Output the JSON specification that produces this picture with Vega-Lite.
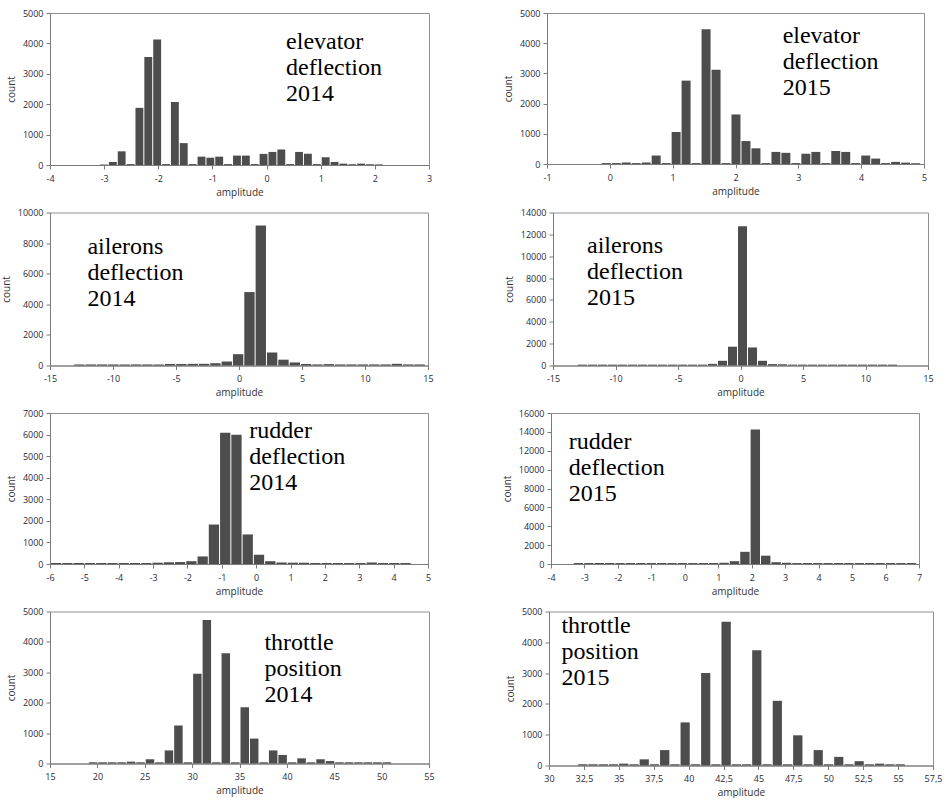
{
  "$schema": "https://vega.github.io/schema/vega-lite/v6.json",
  "background": "white",
  "padding": {"left": 0, "top": 8, "right": 0, "bottom": 0},
  "config": {
    "view": {"stroke": "#8f8f8f", "strokeWidth": 1},
    "axis": {
      "grid": false,
      "labelFont": "Open Sans", "labelFontSize": 9, "labelColor": "#2a2a38",
      "titleFont": "Open Sans", "titleFontSize": 10, "titleFontWeight": "normal", "titleColor": "#333333",
      "domainColor": "#7a7a7a", "tickColor": "#7a7a7a", "tickSize": 4,
      "labelOverlap": false, "labelFlush": false, "labelBound": false
    },
    "axisX": {"labelPadding": 5, "titlePadding": 4, "format": "d"},
    "axisY": {"labelPadding": 3, "titlePadding": 6, "format": "d"}
  },
  "datasets": {
    "p1": [
      {"lo": -3.095, "hi": -2.931, "n": 15}, {"lo": -2.931, "hi": -2.767, "n": 100}, {"lo": -2.767, "hi": -2.604, "n": 450},
      {"lo": -2.604, "hi": -2.44, "n": 30}, {"lo": -2.44, "hi": -2.276, "n": 1880}, {"lo": -2.276, "hi": -2.112, "n": 3550},
      {"lo": -2.112, "hi": -1.948, "n": 4130}, {"lo": -1.948, "hi": -1.785, "n": 30}, {"lo": -1.785, "hi": -1.621, "n": 2070},
      {"lo": -1.621, "hi": -1.457, "n": 720}, {"lo": -1.457, "hi": -1.293, "n": 30}, {"lo": -1.293, "hi": -1.129, "n": 275},
      {"lo": -1.129, "hi": -0.966, "n": 240}, {"lo": -0.966, "hi": -0.802, "n": 275}, {"lo": -0.802, "hi": -0.638, "n": 30},
      {"lo": -0.638, "hi": -0.474, "n": 310}, {"lo": -0.474, "hi": -0.31, "n": 310}, {"lo": -0.31, "hi": -0.147, "n": 30},
      {"lo": -0.147, "hi": 0.017, "n": 365}, {"lo": 0.017, "hi": 0.181, "n": 430}, {"lo": 0.181, "hi": 0.345, "n": 510},
      {"lo": 0.345, "hi": 0.509, "n": 30}, {"lo": 0.509, "hi": 0.672, "n": 430}, {"lo": 0.672, "hi": 0.836, "n": 370},
      {"lo": 0.836, "hi": 1.0, "n": 30}, {"lo": 1.0, "hi": 1.164, "n": 255}, {"lo": 1.164, "hi": 1.328, "n": 100},
      {"lo": 1.328, "hi": 1.491, "n": 45}, {"lo": 1.491, "hi": 1.655, "n": 25}, {"lo": 1.655, "hi": 1.819, "n": 45},
      {"lo": 1.819, "hi": 1.983, "n": 25}, {"lo": 1.983, "hi": 2.147, "n": 20}
    ],
    "p2": [
      {"lo": -0.144, "hi": 0.015, "n": 30}, {"lo": 0.015, "hi": 0.174, "n": 30}, {"lo": 0.174, "hi": 0.332, "n": 50},
      {"lo": 0.332, "hi": 0.491, "n": 30}, {"lo": 0.491, "hi": 0.65, "n": 50}, {"lo": 0.65, "hi": 0.809, "n": 280},
      {"lo": 0.809, "hi": 0.968, "n": 30}, {"lo": 0.968, "hi": 1.126, "n": 1060}, {"lo": 1.126, "hi": 1.285, "n": 2760},
      {"lo": 1.285, "hi": 1.444, "n": 30}, {"lo": 1.444, "hi": 1.603, "n": 4460}, {"lo": 1.603, "hi": 1.762, "n": 3120},
      {"lo": 1.762, "hi": 1.92, "n": 30}, {"lo": 1.92, "hi": 2.079, "n": 1640}, {"lo": 2.079, "hi": 2.238, "n": 760},
      {"lo": 2.238, "hi": 2.397, "n": 520}, {"lo": 2.397, "hi": 2.556, "n": 30}, {"lo": 2.556, "hi": 2.714, "n": 400},
      {"lo": 2.714, "hi": 2.873, "n": 370}, {"lo": 2.873, "hi": 3.032, "n": 30}, {"lo": 3.032, "hi": 3.191, "n": 340},
      {"lo": 3.191, "hi": 3.35, "n": 400}, {"lo": 3.35, "hi": 3.508, "n": 30}, {"lo": 3.508, "hi": 3.667, "n": 430},
      {"lo": 3.667, "hi": 3.826, "n": 400}, {"lo": 3.826, "hi": 3.985, "n": 30}, {"lo": 3.985, "hi": 4.144, "n": 280},
      {"lo": 4.144, "hi": 4.302, "n": 180}, {"lo": 4.302, "hi": 4.461, "n": 30}, {"lo": 4.461, "hi": 4.62, "n": 70},
      {"lo": 4.62, "hi": 4.779, "n": 45}, {"lo": 4.779, "hi": 4.938, "n": 25}
    ],
    "p3": [
      {"lo": -13.16, "hi": -12.26, "n": 70}, {"lo": -12.26, "hi": -11.36, "n": 70}, {"lo": -11.36, "hi": -10.46, "n": 70},
      {"lo": -10.46, "hi": -9.56, "n": 70}, {"lo": -9.56, "hi": -8.66, "n": 70}, {"lo": -8.66, "hi": -7.76, "n": 70},
      {"lo": -7.76, "hi": -6.86, "n": 70}, {"lo": -6.86, "hi": -5.96, "n": 70}, {"lo": -5.96, "hi": -5.06, "n": 90},
      {"lo": -5.06, "hi": -4.16, "n": 100}, {"lo": -4.16, "hi": -3.26, "n": 110}, {"lo": -3.26, "hi": -2.36, "n": 110},
      {"lo": -2.36, "hi": -1.46, "n": 150}, {"lo": -1.46, "hi": -0.56, "n": 260}, {"lo": -0.56, "hi": 0.34, "n": 740},
      {"lo": 0.34, "hi": 1.24, "n": 4800}, {"lo": 1.24, "hi": 2.14, "n": 9150}, {"lo": 2.14, "hi": 3.04, "n": 850},
      {"lo": 3.04, "hi": 3.94, "n": 380}, {"lo": 3.94, "hi": 4.84, "n": 200}, {"lo": 4.84, "hi": 5.74, "n": 90},
      {"lo": 5.74, "hi": 6.64, "n": 70}, {"lo": 6.64, "hi": 7.54, "n": 90}, {"lo": 7.54, "hi": 8.44, "n": 70},
      {"lo": 8.44, "hi": 9.34, "n": 70}, {"lo": 9.34, "hi": 10.24, "n": 70}, {"lo": 10.24, "hi": 11.14, "n": 70},
      {"lo": 11.14, "hi": 12.04, "n": 70}, {"lo": 12.04, "hi": 12.94, "n": 110}, {"lo": 12.94, "hi": 13.84, "n": 70},
      {"lo": 13.84, "hi": 14.74, "n": 70}
    ],
    "p4": [
      {"lo": -13.08, "hi": -12.28, "n": 80}, {"lo": -12.28, "hi": -11.48, "n": 80}, {"lo": -11.48, "hi": -10.68, "n": 80},
      {"lo": -10.68, "hi": -9.88, "n": 80}, {"lo": -9.88, "hi": -9.08, "n": 80}, {"lo": -9.08, "hi": -8.28, "n": 80},
      {"lo": -8.28, "hi": -7.48, "n": 80}, {"lo": -7.48, "hi": -6.68, "n": 80}, {"lo": -6.68, "hi": -5.88, "n": 80},
      {"lo": -5.88, "hi": -5.08, "n": 80}, {"lo": -5.08, "hi": -4.28, "n": 80}, {"lo": -4.28, "hi": -3.48, "n": 80},
      {"lo": -3.48, "hi": -2.68, "n": 80}, {"lo": -2.68, "hi": -1.88, "n": 150}, {"lo": -1.88, "hi": -1.08, "n": 430},
      {"lo": -1.08, "hi": -0.28, "n": 1720}, {"lo": -0.28, "hi": 0.52, "n": 12750}, {"lo": 0.52, "hi": 1.32, "n": 1650},
      {"lo": 1.32, "hi": 2.12, "n": 430}, {"lo": 2.12, "hi": 2.92, "n": 130}, {"lo": 2.92, "hi": 3.72, "n": 110},
      {"lo": 3.72, "hi": 4.52, "n": 80}, {"lo": 4.52, "hi": 5.32, "n": 80}, {"lo": 5.32, "hi": 6.12, "n": 80},
      {"lo": 6.12, "hi": 6.92, "n": 80}, {"lo": 6.92, "hi": 7.72, "n": 80}, {"lo": 7.72, "hi": 8.52, "n": 80},
      {"lo": 8.52, "hi": 9.32, "n": 80}, {"lo": 9.32, "hi": 10.12, "n": 80}, {"lo": 10.12, "hi": 10.92, "n": 80},
      {"lo": 10.92, "hi": 11.72, "n": 80}, {"lo": 11.72, "hi": 12.52, "n": 80}
    ],
    "p5": [
      {"lo": -6.0, "hi": -5.672, "n": 45}, {"lo": -5.672, "hi": -5.344, "n": 45}, {"lo": -5.344, "hi": -5.016, "n": 45},
      {"lo": -5.016, "hi": -4.688, "n": 45}, {"lo": -4.688, "hi": -4.36, "n": 45}, {"lo": -4.36, "hi": -4.032, "n": 45},
      {"lo": -4.032, "hi": -3.704, "n": 45}, {"lo": -3.704, "hi": -3.376, "n": 45}, {"lo": -3.376, "hi": -3.048, "n": 45},
      {"lo": -3.048, "hi": -2.72, "n": 60}, {"lo": -2.72, "hi": -2.392, "n": 80}, {"lo": -2.392, "hi": -2.064, "n": 90},
      {"lo": -2.064, "hi": -1.736, "n": 130}, {"lo": -1.736, "hi": -1.408, "n": 350}, {"lo": -1.408, "hi": -1.08, "n": 1830},
      {"lo": -1.08, "hi": -0.752, "n": 6080}, {"lo": -0.752, "hi": -0.424, "n": 5990}, {"lo": -0.424, "hi": -0.096, "n": 1370},
      {"lo": -0.096, "hi": 0.232, "n": 430}, {"lo": 0.232, "hi": 0.56, "n": 130}, {"lo": 0.56, "hi": 0.888, "n": 70},
      {"lo": 0.888, "hi": 1.216, "n": 60}, {"lo": 1.216, "hi": 1.544, "n": 60}, {"lo": 1.544, "hi": 1.872, "n": 45},
      {"lo": 1.872, "hi": 2.2, "n": 45}, {"lo": 2.2, "hi": 2.528, "n": 45}, {"lo": 2.528, "hi": 2.856, "n": 45},
      {"lo": 2.856, "hi": 3.184, "n": 45}, {"lo": 3.184, "hi": 3.512, "n": 70}, {"lo": 3.512, "hi": 3.84, "n": 45},
      {"lo": 3.84, "hi": 4.168, "n": 45}, {"lo": 4.168, "hi": 4.496, "n": 45}
    ],
    "p6": [
      {"lo": -3.35, "hi": -3.039, "n": 100}, {"lo": -3.039, "hi": -2.728, "n": 100}, {"lo": -2.728, "hi": -2.417, "n": 100},
      {"lo": -2.417, "hi": -2.106, "n": 100}, {"lo": -2.106, "hi": -1.795, "n": 100}, {"lo": -1.795, "hi": -1.484, "n": 100},
      {"lo": -1.484, "hi": -1.173, "n": 100}, {"lo": -1.173, "hi": -0.862, "n": 100}, {"lo": -0.862, "hi": -0.551, "n": 100},
      {"lo": -0.551, "hi": -0.24, "n": 100}, {"lo": -0.24, "hi": 0.071, "n": 100}, {"lo": 0.071, "hi": 0.382, "n": 100},
      {"lo": 0.382, "hi": 0.693, "n": 100}, {"lo": 0.693, "hi": 1.004, "n": 100}, {"lo": 1.004, "hi": 1.315, "n": 130},
      {"lo": 1.315, "hi": 1.626, "n": 300}, {"lo": 1.626, "hi": 1.937, "n": 1290}, {"lo": 1.937, "hi": 2.248, "n": 14250},
      {"lo": 2.248, "hi": 2.559, "n": 880}, {"lo": 2.559, "hi": 2.87, "n": 190}, {"lo": 2.87, "hi": 3.181, "n": 130},
      {"lo": 3.181, "hi": 3.492, "n": 100}, {"lo": 3.492, "hi": 3.803, "n": 100}, {"lo": 3.803, "hi": 4.114, "n": 100},
      {"lo": 4.114, "hi": 4.425, "n": 100}, {"lo": 4.425, "hi": 4.736, "n": 100}, {"lo": 4.736, "hi": 5.047, "n": 100},
      {"lo": 5.047, "hi": 5.358, "n": 100}, {"lo": 5.358, "hi": 5.669, "n": 100}, {"lo": 5.669, "hi": 5.98, "n": 100},
      {"lo": 5.98, "hi": 6.291, "n": 100}, {"lo": 6.291, "hi": 6.602, "n": 100}, {"lo": 6.602, "hi": 6.913, "n": 100}
    ],
    "p7": [
      {"lo": 19, "hi": 20, "n": 40}, {"lo": 20, "hi": 21, "n": 40}, {"lo": 21, "hi": 22, "n": 40}, {"lo": 22, "hi": 23, "n": 40},
      {"lo": 23, "hi": 24, "n": 60}, {"lo": 24, "hi": 25, "n": 40}, {"lo": 25, "hi": 26, "n": 140}, {"lo": 26, "hi": 27, "n": 40},
      {"lo": 27, "hi": 28, "n": 430}, {"lo": 28, "hi": 29, "n": 1250}, {"lo": 29, "hi": 30, "n": 40}, {"lo": 30, "hi": 31, "n": 2950},
      {"lo": 31, "hi": 32, "n": 4720}, {"lo": 32, "hi": 33, "n": 40}, {"lo": 33, "hi": 34, "n": 3630}, {"lo": 34, "hi": 35, "n": 40},
      {"lo": 35, "hi": 36, "n": 1850}, {"lo": 36, "hi": 37, "n": 820}, {"lo": 37, "hi": 38, "n": 40}, {"lo": 38, "hi": 39, "n": 430},
      {"lo": 39, "hi": 40, "n": 280}, {"lo": 40, "hi": 41, "n": 40}, {"lo": 41, "hi": 42, "n": 170}, {"lo": 42, "hi": 43, "n": 40},
      {"lo": 43, "hi": 44, "n": 140}, {"lo": 44, "hi": 45, "n": 80}, {"lo": 45, "hi": 46, "n": 40}, {"lo": 46, "hi": 47, "n": 40},
      {"lo": 47, "hi": 48, "n": 40}, {"lo": 48, "hi": 49, "n": 40}, {"lo": 49, "hi": 50, "n": 40}, {"lo": 50, "hi": 51, "n": 40}
    ],
    "p8": [
      {"lo": 32.02, "hi": 32.75, "n": 40}, {"lo": 32.75, "hi": 33.49, "n": 40}, {"lo": 33.49, "hi": 34.22, "n": 40},
      {"lo": 34.22, "hi": 34.95, "n": 40}, {"lo": 34.95, "hi": 35.69, "n": 60}, {"lo": 35.69, "hi": 36.42, "n": 40},
      {"lo": 36.42, "hi": 37.15, "n": 200}, {"lo": 37.15, "hi": 37.88, "n": 40}, {"lo": 37.88, "hi": 38.62, "n": 500},
      {"lo": 38.62, "hi": 39.35, "n": 40}, {"lo": 39.35, "hi": 40.08, "n": 1400}, {"lo": 40.08, "hi": 40.82, "n": 40},
      {"lo": 40.82, "hi": 41.55, "n": 3000}, {"lo": 41.55, "hi": 42.28, "n": 40}, {"lo": 42.28, "hi": 43.02, "n": 4670},
      {"lo": 43.02, "hi": 43.75, "n": 40}, {"lo": 43.75, "hi": 44.48, "n": 40}, {"lo": 44.48, "hi": 45.21, "n": 3740},
      {"lo": 45.21, "hi": 45.95, "n": 40}, {"lo": 45.95, "hi": 46.68, "n": 2100}, {"lo": 46.68, "hi": 47.41, "n": 40},
      {"lo": 47.41, "hi": 48.15, "n": 980}, {"lo": 48.15, "hi": 48.88, "n": 40}, {"lo": 48.88, "hi": 49.61, "n": 500},
      {"lo": 49.61, "hi": 50.35, "n": 40}, {"lo": 50.35, "hi": 51.08, "n": 280}, {"lo": 51.08, "hi": 51.81, "n": 40},
      {"lo": 51.81, "hi": 52.54, "n": 140}, {"lo": 52.54, "hi": 53.28, "n": 40}, {"lo": 53.28, "hi": 54.01, "n": 60},
      {"lo": 54.01, "hi": 54.74, "n": 40}, {"lo": 54.74, "hi": 55.48, "n": 40}
    ]
  },
  "spacing": 9.5,
  "vconcat": [
    {
      "spacing": 69,
      "hconcat": [
        {
          "width": 379, "height": 152,
          "layer": [
            {"data": {"name": "p1"}, "mark": {"type": "bar", "color": "#4d4d4d", "binSpacing": 1},
             "encoding": {
               "x": {"field": "lo", "type": "quantitative", "bin": "binned", "scale": {"domain": [-4, 3], "nice": false, "zero": false}, "axis": {"values": [-4, -3, -2, -1, 0, 1, 2, 3], "tickCount": 40, "title": "amplitude", "labelExpr": "replace(datum.label, '\u2212', '-')"}},
               "x2": {"field": "hi"},
               "y": {"field": "n", "type": "quantitative", "scale": {"domain": [0, 5000], "nice": false}, "axis": {"values": [0, 1000, 2000, 3000, 4000, 5000], "tickCount": 40, "title": "count"}}
             }},
            {"data": {"values": [{"x": 0.36, "y": 3816, "t": "elevator\ndeflection\n2014"}]},
             "mark": {"type": "text", "font": "Liberation Serif", "fontSize": 24, "lineHeight": 26, "lineBreak": "\n", "align": "left", "baseline": "alphabetic", "color": "#000000"},
             "encoding": {"x": {"field": "x", "type": "quantitative"}, "y": {"field": "y", "type": "quantitative"}, "text": {"field": "t"}}}
          ]
        },
        {
          "width": 377, "height": 151,
          "layer": [
            {"data": {"name": "p2"}, "mark": {"type": "bar", "color": "#4d4d4d", "binSpacing": 1},
             "encoding": {
               "x": {"field": "lo", "type": "quantitative", "bin": "binned", "scale": {"domain": [-1, 5], "nice": false, "zero": false}, "axis": {"values": [-1, 0, 1, 2, 3, 4, 5], "tickCount": 40, "title": "amplitude", "labelExpr": "replace(datum.label, '\u2212', '-')"}},
               "x2": {"field": "hi"},
               "y": {"field": "n", "type": "quantitative", "scale": {"domain": [0, 5000], "nice": false}, "axis": {"values": [0, 1000, 2000, 3000, 4000, 5000], "tickCount": 40, "title": "count"}}
             }},
            {"data": {"values": [{"x": 2.75, "y": 4007, "t": "elevator\ndeflection\n2015"}]},
             "mark": {"type": "text", "font": "Liberation Serif", "fontSize": 24, "lineHeight": 26, "lineBreak": "\n", "align": "left", "baseline": "alphabetic", "color": "#000000"},
             "encoding": {"x": {"field": "x", "type": "quantitative"}, "y": {"field": "y", "type": "quantitative"}, "text": {"field": "t"}}}
          ]
        }
      ]
    },
    {
      "spacing": 69,
      "hconcat": [
        {
          "width": 378, "height": 153,
          "layer": [
            {"data": {"name": "p3"}, "mark": {"type": "bar", "color": "#4d4d4d", "binSpacing": 1},
             "encoding": {
               "x": {"field": "lo", "type": "quantitative", "bin": "binned", "scale": {"domain": [-15, 15], "nice": false, "zero": false}, "axis": {"values": [-15, -10, -5, 0, 5, 10, 15], "tickCount": 40, "title": "amplitude", "labelExpr": "replace(datum.label, '\u2212', '-')"}},
               "x2": {"field": "hi"},
               "y": {"field": "n", "type": "quantitative", "scale": {"domain": [0, 10000], "nice": false}, "axis": {"values": [0, 2000, 4000, 6000, 8000, 10000], "tickCount": 40, "title": "count"}}
             }},
            {"data": {"values": [{"x": -12.03, "y": 7255, "t": "ailerons\ndeflection\n2014"}]},
             "mark": {"type": "text", "font": "Liberation Serif", "fontSize": 24, "lineHeight": 26, "lineBreak": "\n", "align": "left", "baseline": "alphabetic", "color": "#000000"},
             "encoding": {"x": {"field": "x", "type": "quantitative"}, "y": {"field": "y", "type": "quantitative"}, "text": {"field": "t"}}}
          ]
        },
        {
          "width": 375, "height": 153,
          "layer": [
            {"data": {"name": "p4"}, "mark": {"type": "bar", "color": "#4d4d4d", "binSpacing": 1},
             "encoding": {
               "x": {"field": "lo", "type": "quantitative", "bin": "binned", "scale": {"domain": [-15, 15], "nice": false, "zero": false}, "axis": {"values": [-15, -10, -5, 0, 5, 10, 15], "tickCount": 40, "title": "amplitude", "labelExpr": "replace(datum.label, '\u2212', '-')"}},
               "x2": {"field": "hi"},
               "y": {"field": "n", "type": "quantitative", "scale": {"domain": [0, 14000], "nice": false}, "axis": {"values": [0, 2000, 4000, 6000, 8000, 10000, 12000, 14000], "tickCount": 40, "title": "count"}}
             }},
            {"data": {"values": [{"x": -12.28, "y": 10320, "t": "ailerons\ndeflection\n2015"}]},
             "mark": {"type": "text", "font": "Liberation Serif", "fontSize": 24, "lineHeight": 26, "lineBreak": "\n", "align": "left", "baseline": "alphabetic", "color": "#000000"},
             "encoding": {"x": {"field": "x", "type": "quantitative"}, "y": {"field": "y", "type": "quantitative"}, "text": {"field": "t"}}}
          ]
        }
      ]
    },
    {
      "spacing": 69,
      "hconcat": [
        {
          "width": 378, "height": 151,
          "layer": [
            {"data": {"name": "p5"}, "mark": {"type": "bar", "color": "#4d4d4d", "binSpacing": 1},
             "encoding": {
               "x": {"field": "lo", "type": "quantitative", "bin": "binned", "scale": {"domain": [-6, 5], "nice": false, "zero": false}, "axis": {"values": [-6, -5, -4, -3, -2, -1, 0, 1, 2, 3, 4, 5], "tickCount": 40, "title": "amplitude", "labelExpr": "replace(datum.label, '\u2212', '-')"}},
               "x2": {"field": "hi"},
               "y": {"field": "n", "type": "quantitative", "scale": {"domain": [0, 7000], "nice": false}, "axis": {"values": [0, 1000, 2000, 3000, 4000, 5000, 6000, 7000], "tickCount": 40, "title": "count"}}
             }},
            {"data": {"values": [{"x": -0.2, "y": 5850, "t": "rudder\ndeflection\n\u00a02014"}]},
             "mark": {"type": "text", "font": "Liberation Serif", "fontSize": 24, "lineHeight": 26, "lineBreak": "\n", "align": "left", "baseline": "alphabetic", "color": "#000000"},
             "encoding": {"x": {"field": "x", "type": "quantitative"}, "y": {"field": "y", "type": "quantitative"}, "text": {"field": "t"}}}
          ]
        },
        {
          "width": 368, "height": 151,
          "layer": [
            {"data": {"name": "p6"}, "mark": {"type": "bar", "color": "#4d4d4d", "binSpacing": 1},
             "encoding": {
               "x": {"field": "lo", "type": "quantitative", "bin": "binned", "scale": {"domain": [-4, 7], "nice": false, "zero": false}, "axis": {"values": [-4, -3, -2, -1, 0, 1, 2, 3, 4, 5, 6, 7], "tickCount": 40, "title": "amplitude", "labelExpr": "replace(datum.label, '\u2212', '-')"}},
               "x2": {"field": "hi"},
               "y": {"field": "n", "type": "quantitative", "scale": {"domain": [0, 16000], "nice": false}, "axis": {"values": [0, 2000, 4000, 6000, 8000, 10000, 12000, 14000, 16000], "tickCount": 40, "title": "count"}}
             }},
            {"data": {"values": [{"x": -3.47, "y": 12215, "t": "rudder\ndeflection\n2015"}]},
             "mark": {"type": "text", "font": "Liberation Serif", "fontSize": 24, "lineHeight": 26, "lineBreak": "\n", "align": "left", "baseline": "alphabetic", "color": "#000000"},
             "encoding": {"x": {"field": "x", "type": "quantitative"}, "y": {"field": "y", "type": "quantitative"}, "text": {"field": "t"}}}
          ]
        }
      ]
    },
    {
      "spacing": 69,
      "hconcat": [
        {
          "width": 379, "height": 152,
          "layer": [
            {"data": {"name": "p7"}, "mark": {"type": "bar", "color": "#4d4d4d", "binSpacing": 1},
             "encoding": {
               "x": {"field": "lo", "type": "quantitative", "bin": "binned", "scale": {"domain": [15, 55], "nice": false, "zero": false}, "axis": {"values": [15, 20, 25, 30, 35, 40, 45, 50, 55], "tickCount": 40, "title": "amplitude"}},
               "x2": {"field": "hi"},
               "y": {"field": "n", "type": "quantitative", "scale": {"domain": [0, 5000], "nice": false}, "axis": {"values": [0, 1000, 2000, 3000, 4000, 5000], "tickCount": 40, "title": "count"}}
             }},
            {"data": {"values": [{"x": 37.63, "y": 3745, "t": "throttle\nposition\n2014"}]},
             "mark": {"type": "text", "font": "Liberation Serif", "fontSize": 24, "lineHeight": 26, "lineBreak": "\n", "align": "left", "baseline": "alphabetic", "color": "#000000"},
             "encoding": {"x": {"field": "x", "type": "quantitative"}, "y": {"field": "y", "type": "quantitative"}, "text": {"field": "t"}}}
          ]
        },
        {
          "width": 384, "height": 154,
          "layer": [
            {"data": {"name": "p8"}, "mark": {"type": "bar", "color": "#4d4d4d", "binSpacing": 1},
             "encoding": {
               "x": {"field": "lo", "type": "quantitative", "bin": "binned", "scale": {"domain": [30, 57.5], "nice": false, "zero": false}, "axis": {"values": [30, 32.5, 35, 37.5, 40, 42.5, 45, 47.5, 50, 52.5, 55, 57.5], "tickCount": 40, "title": "amplitude", "format": ".1~f", "labelExpr": "replace(datum.label, '.', ',')"}},
               "x2": {"field": "hi"},
               "y": {"field": "n", "type": "quantitative", "scale": {"domain": [0, 5000], "nice": false}, "axis": {"values": [0, 1000, 2000, 3000, 4000, 5000], "tickCount": 40, "title": "count"}}
             }},
            {"data": {"values": [{"x": 30.89, "y": 4286, "t": "throttle\nposition\n2015"}]},
             "mark": {"type": "text", "font": "Liberation Serif", "fontSize": 24, "lineHeight": 26, "lineBreak": "\n", "align": "left", "baseline": "alphabetic", "color": "#000000"},
             "encoding": {"x": {"field": "x", "type": "quantitative"}, "y": {"field": "y", "type": "quantitative"}, "text": {"field": "t"}}}
          ]
        }
      ]
    }
  ]
}
